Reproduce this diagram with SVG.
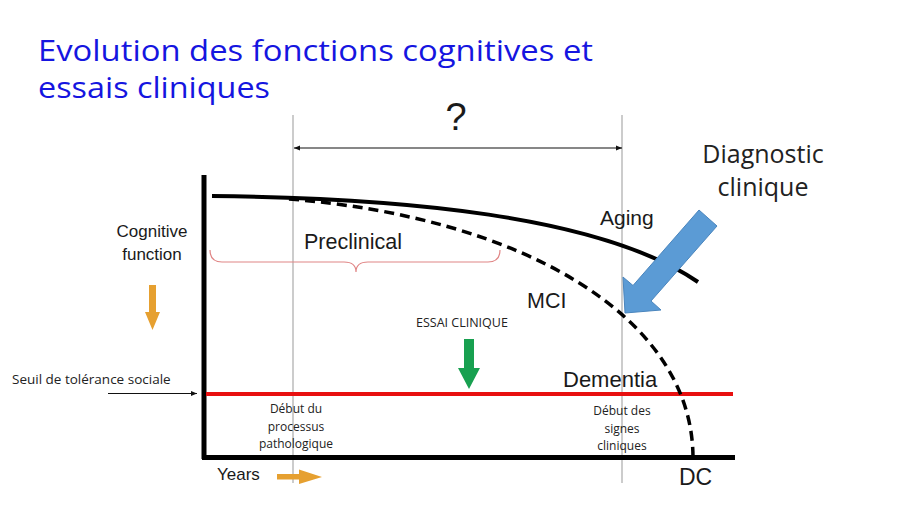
<svg xmlns="http://www.w3.org/2000/svg" width="910" height="512" viewBox="0 0 910 512">
<defs>
<marker id="ah" viewBox="0 0 10 10" refX="10" refY="5" markerWidth="6" markerHeight="6" markerUnits="userSpaceOnUse" orient="auto-start-reverse">
<path d="M0,1 L10,5 L0,9 Z" fill="#111"/>
</marker>
<style>
.title{font-family:"Open Sans","Liberation Sans",sans-serif;fill:#1515e0;font-size:29px}
.cal{font-family:"Open Sans","Liberation Sans",sans-serif;fill:#222}
.hel{font-family:"Liberation Sans",Arial,sans-serif;fill:#1a1a1a}
.guide{stroke:#999;stroke-width:1;fill:none}
.axis{stroke:#000;stroke-width:5;fill:none}
</style>
</defs>
<rect width="910" height="512" fill="#fff"/>

<g id="title">
<text class="title" x="38" y="61" textLength="555" lengthAdjust="spacingAndGlyphs">Evolution des fonctions cognitives et</text>
<text class="title" x="38" y="98" textLength="232" lengthAdjust="spacingAndGlyphs">essais cliniques</text>
</g>

<g id="guides">
<line class="guide" x1="293" y1="115" x2="293" y2="483"/>
<line class="guide" x1="622" y1="115" x2="622" y2="483"/>
</g>

<g id="axes">
<line class="axis" x1="204" y1="175" x2="204" y2="459"/>
<line class="axis" x1="202" y1="457.5" x2="735" y2="457.5" stroke-width="4"/>
</g>

<g id="connectors">
<line x1="294" y1="148" x2="622" y2="148" stroke="#111" stroke-width="1.2" marker-start="url(#ah)" marker-end="url(#ah)"/>
<line x1="108" y1="393.5" x2="197" y2="393.5" stroke="#111" stroke-width="1.2" marker-end="url(#ah)"/>
</g>

<g id="question"><text class="hel" x="456" y="130" font-size="38" text-anchor="middle">?</text></g>

<g id="threshold"><line x1="206" y1="394" x2="733" y2="394" stroke="#e81010" stroke-width="4"/></g>

<g id="aging-curve"><path d="M212,196 C400,198 600,215 698,282" fill="none" stroke="#000" stroke-width="4"/></g>
<g id="mci-curve"><path d="M289,199 C520.5,217.3 693,315.8 693,458" fill="none" stroke="#000" stroke-width="3.5" stroke-dasharray="10,6"/></g>

<g id="preclinical">
<path d="M210,250 Q210,262 222,262 L344,262 Q356,262 356,272 Q356,262 368,262 L488,262 Q500,262 500,250" fill="none" stroke="#e08585" stroke-width="1.2"/>
<text class="hel" x="304" y="249" font-size="21.5">Preclinical</text>
</g>

<g id="cognitive-label">
<text class="hel" x="152" y="237" font-size="17" text-anchor="middle">Cognitive</text>
<text class="hel" x="152" y="260" font-size="17" text-anchor="middle">function</text>
<polygon points="149,285 156,285 156,312 160,312 152.5,330 145,312 149,312" fill="#e6a030"/>
</g>

<g id="seuil"><text class="cal" x="12" y="384" font-size="13.5">Seuil de tolérance sociale</text></g>

<g id="debut-processus">
<text class="cal" x="296" y="413" font-size="12" text-anchor="middle">Début du</text>
<text class="cal" x="296" y="431" font-size="12" text-anchor="middle">processus</text>
<text class="cal" x="296" y="448" font-size="12" text-anchor="middle">pathologique</text>
</g>

<g id="years">
<text class="hel" x="217" y="480" font-size="17">Years</text>
<polygon points="277,474 299,474 299,469.5 322,477 299,484 299,479.5 277,479.5" fill="#e6a030"/>
</g>

<g id="essai">
<text class="cal" x="416" y="327" font-size="12.5">ESSAI CLINIQUE</text>
<polygon points="464,339 474,339 474,368 480,368 469,389 458,368 464,368" fill="#18a050"/>
</g>

<g id="labels">
<text class="hel" x="600" y="225" font-size="21">Aging</text>
<text class="hel" x="527" y="308" font-size="21.5">MCI</text>
<text class="hel" x="563" y="387" font-size="22">Dementia</text>
<text class="hel" x="679" y="485" font-size="23">DC</text>
</g>

<g id="debut-signes">
<text class="cal" x="622" y="415" font-size="12" text-anchor="middle">Début des</text>
<text class="cal" x="622" y="433" font-size="12" text-anchor="middle">signes</text>
<text class="cal" x="622" y="450" font-size="12" text-anchor="middle">cliniques</text>
</g>

<g id="diagnostic">
<text class="cal" x="763" y="163" font-size="25" text-anchor="middle">Diagnostic</text>
<text class="cal" x="763" y="196" font-size="25" text-anchor="middle">clinique</text>
<polygon points="699,210 717,226 651,301 661,310 625,313 623,277 633,285.5" fill="#5b9bd5" stroke="#4a85bd" stroke-width="1"/>
</g>
</svg>
